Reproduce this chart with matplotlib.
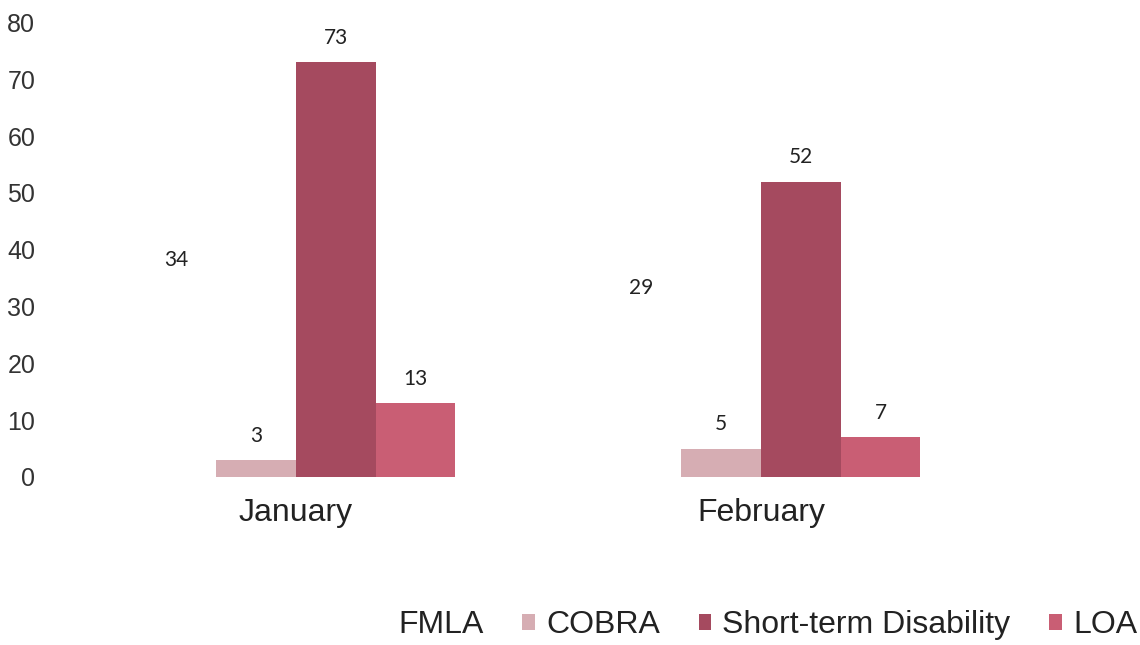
#!/usr/bin/env python3

import numpy as np
import matplotlib.pyplot as plt

plt.rcParams['font.family'] = ['Liberation Sans', 'DejaVu Sans']

months = ['January', 'February']
series = ['FMLA', 'COBRA', 'Short-term Disability', 'LOA']
fmla = [34, 29]
cobra = [3, 5]
short_term = [73, 52]
loa = [13, 7]

colors = ['#ffffff', '#d6adb3', '#a54a5f', '#c95e74']


def main():
    fig = plt.figure(figsize=(11.4, 6.45), dpi=100)
    ax = fig.add_axes([45 / 1140, 1 - 477 / 645, 1 - 45 / 1140, 454.4 / 645])

    x = np.arange(len(months))
    width = 0.1714
    offsets = (np.arange(len(series)) - 1.5) * width

    for values, name, color, off in zip([fmla, cobra, short_term, loa],
                                        series, colors, offsets):
        bars = ax.bar(x + off, values, width, color=color, label=name,
                      linewidth=0)
        for bar, v in zip(bars, values):
            ax.annotate(str(v),
                        (bar.get_x() + bar.get_width() / 2, bar.get_height()),
                        xytext=(0, 17.5), textcoords='offset points',
                        ha='center', va='center', fontsize=15,
                        family=['Lato', 'DejaVu Sans'], color='#222222',
                        annotation_clip=False)

    ax.set_ylim(0, 80)
    ax.set_yticks(range(0, 81, 10))
    ax.set_xlim((45 - 296) / 465, (1140 - 296) / 465)
    ax.set_xticks(x)
    ax.set_xticklabels(months)

    ax.tick_params(axis='y', length=0, pad=7, labelsize=18,
                   labelcolor='#333333')
    ax.tick_params(axis='x', length=0, pad=15, labelsize=23,
                   labelcolor='#222222')
    for spine in ax.spines.values():
        spine.set_visible(False)

    handles, labels = ax.get_legend_handles_labels()
    fig.legend(handles, labels, loc='center right', ncol=4,
               bbox_to_anchor=(1137 / 1140, 1 - 625 / 645),
               frameon=False, fontsize=23, handlelength=0.4,
               handleheight=0.4, handletextpad=0.35, columnspacing=1.2,
               borderpad=0, borderaxespad=0, labelcolor='#222222')

    plt.savefig('out.png', dpi=100)


if __name__ == "__main__":
    main()
